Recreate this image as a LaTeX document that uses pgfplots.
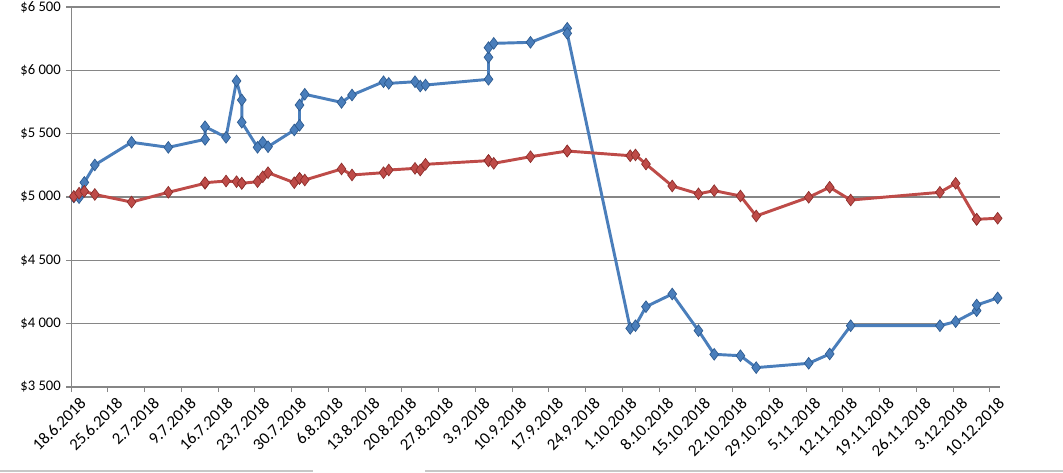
\documentclass[border=0pt]{standalone}
\usepackage{pgfplots}
\pgfplotsset{compat=1.18}
\usepackage{fontspec}
\setmainfont{Carlito}
\definecolor{sblue}{HTML}{4A7EBB}
\definecolor{sbluedark}{HTML}{2C5A8F}
\definecolor{sred}{HTML}{BE4B48}
\definecolor{sreddark}{HTML}{8C2D2A}
\definecolor{gridgray}{HTML}{868686}
\pgfplotstableread{
day val
0 5000
1 4995
2 5115
4 5253
11 5432
18 5392
25 5455
25 5555
29 5471
31 5916
32 5766
32 5590
35 5392
36 5432
37 5397
42 5529
43 5566
43 5726
44 5811
51 5747
53 5805
59 5910
60 5897
65 5910
66 5876
67 5884
79 5929
79 6103
79 6179
80 6213
87 6221
94 6332
94 6292
106 3963
107 3984
109 4134
114 4234
119 3945
122 3758
127 3747
130 3653
140 3687
144 3761
148 3984
165 3984
168 4016
172 4103
172 4147
176 4203
}\blueseries
\pgfplotstableread{
day val
0 5005
1 5030
2 5045
4 5020
11 4960
18 5037
25 5108
25 5113
29 5126
31 5121
32 5108
32 5108
35 5121
36 5160
37 5192
42 5113
43 5147
43 5147
44 5134
51 5221
53 5174
59 5192
60 5213
65 5226
66 5213
67 5258
79 5287
79 5287
79 5287
80 5266
87 5318
94 5363
94 5363
106 5326
107 5332
109 5260
114 5087
119 5025
122 5050
127 5008
130 4850
140 4998
144 5077
148 4976
165 5037
168 5108
172 4824
172 4824
176 4832
}\redseries
\begin{document}
\begin{tikzpicture}
\useasboundingbox (0pt,0pt) rectangle (797.25pt,354pt);
\fill[white] (0pt,0pt) rectangle (797.25pt,354pt);
\draw[line width=1.2pt, black!22] (0pt,0.9pt) -- (234.75pt,0.9pt);
\draw[line width=1.2pt, black!22] (318.75pt,0.9pt) -- (797.25pt,0.9pt);
\begin{axis}[
  at={(53.4pt,63.75pt)}, anchor=south west,
  scale only axis,
  width=696.8pt, height=285pt,
  xmin=-0.5, xmax=176.5,
  ymin=3500, ymax=6500,
  axis x line*=bottom, axis y line*=left,
  axis line style={gridgray, line width=0.8pt, -},
  ytick={3500,4000,...,6500},
  yticklabels={\$3 500,\$4 000,\$4 500,\$5 000,\$5 500,\$6 000,\$6 500},
  xtick={-0.5,6.5,...,174.5},
  xticklabels={18.6.2018,25.6.2018,2.7.2018,9.7.2018,16.7.2018,23.7.2018,30.7.2018,6.8.2018,13.8.2018,20.8.2018,27.8.2018,3.9.2018,10.9.2018,17.9.2018,24.9.2018,1.10.2018,8.10.2018,15.10.2018,22.10.2018,29.10.2018,5.11.2018,12.11.2018,19.11.2018,26.11.2018,3.12.2018,10.12.2018},
  tick align=outside,
  major tick length=3.75pt,
  tick style={gridgray, line width=0.8pt},
  ymajorgrids,
  major grid style={gridgray, line width=0.8pt},
  yticklabel style={font=\fontsize{11}{13}\selectfont, black, xshift=-0.5pt},
  xticklabel style={font=\fontsize{12.5}{14}\selectfont, black, rotate=45, anchor=north east, inner sep=1pt, xshift=3pt, yshift=-5pt},
  clip=false,
]
\addplot[color=sblue, line width=2.2pt, mark=diamond*, mark size=4.4pt,
  mark options={fill=sblue, draw=sbluedark, line width=0.5pt}] table[x=day,y=val] {\blueseries};
\addplot[color=sred, line width=2.2pt, mark=diamond*, mark size=4.4pt,
  mark options={fill=sred, draw=sreddark, line width=0.5pt}] table[x=day,y=val] {\redseries};
\end{axis}
\end{tikzpicture}
\end{document}
